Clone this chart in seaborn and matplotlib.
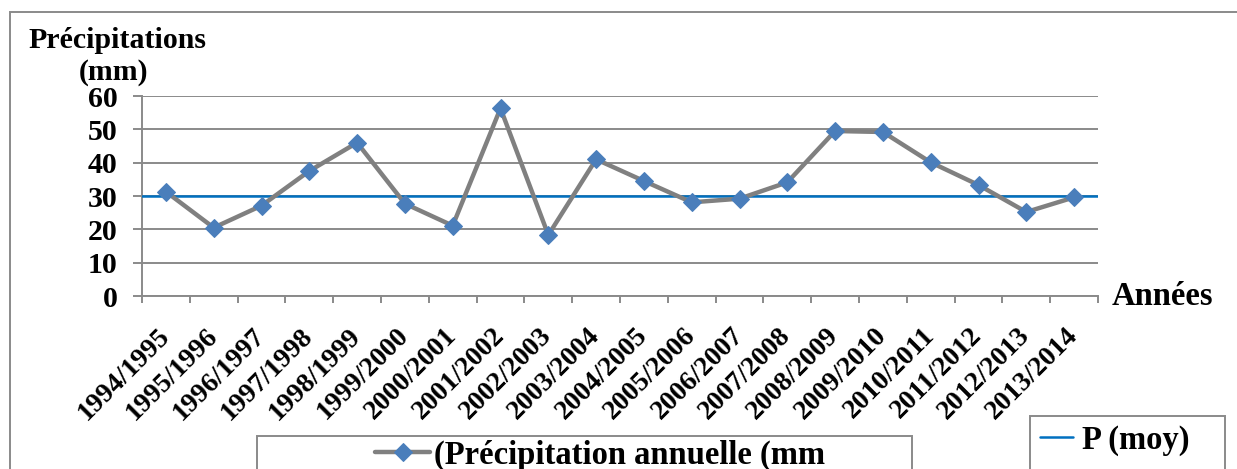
import matplotlib
matplotlib.use("Agg")
import matplotlib.pyplot as plt
import matplotlib.transforms as mtransforms
import seaborn as sns
import pandas as pd
from matplotlib.patches import Rectangle

years = ["1994/1995", "1995/1996", "1996/1997", "1997/1998", "1998/1999",
         "1999/2000", "2000/2001", "2001/2002", "2002/2003", "2003/2004",
         "2004/2005", "2005/2006", "2006/2007", "2007/2008", "2008/2009",
         "2009/2010", "2010/2011", "2011/2012", "2012/2013", "2013/2014"]
precip = [31.3, 20.5, 27.1, 37.5, 46.0, 27.7, 21.1, 56.3, 18.3, 41.0,
          34.5, 28.1, 29.2, 34.1, 49.5, 49.2, 40.1, 33.3, 25.2, 29.6]
p_moy = 30.0
yticks = [0, 10, 20, 30, 40, 50, 60]

sns.set_theme(style="white")
plt.rcParams['font.family'] = ['Liberation Serif', 'DejaVu Serif']
plt.rcParams['font.weight'] = 'bold'
plt.rcParams['text.color'] = 'black'
plt.rcParams['xtick.labelcolor'] = 'black'
plt.rcParams['ytick.labelcolor'] = 'black'

GRID = "#8a8a8a"
W, H = 1237, 469
fig = plt.figure(figsize=(W / 100, H / 100), dpi=100)
ax = fig.add_axes([142 / W, 1 - 296 / H, (1098 - 142) / W, 200 / H])

df = pd.DataFrame({"year": years, "precip": precip})
sns.lineplot(data=df, x="year", y="precip", sort=False, ax=ax,
             color="#808080", linewidth=3.2, marker="D", markersize=9,
             markerfacecolor="#4a7ebb", markeredgecolor="#4a7ebb",
             legend=False, zorder=4)
ax.axhline(p_moy, color="#0070c0", linewidth=1.8, zorder=3)

ax.set_xlim(-0.5, len(years) - 0.5)
ax.set_ylim(0, 60)
ax.set_yticks(yticks)
ax.set_yticklabels([str(v) for v in yticks], fontsize=21.5, fontweight='bold')
ax.yaxis.grid(True, color=GRID, linewidth=1.4)
ax.xaxis.grid(False)
ax.set_axisbelow(True)
for s in ["top", "right"]:
    ax.spines[s].set_visible(False)
for s in ["left", "bottom"]:
    ax.spines[s].set_color(GRID)
    ax.spines[s].set_linewidth(1.4)
ax.tick_params(axis="y", which="major", length=6.5, width=1.4, color=GRID,
               pad=11, left=True)

ax.set_xticks(range(len(years)))
ax.set_xticklabels(years, rotation=45, ha="right", va="center",
                   rotation_mode="anchor", fontsize=20, fontweight='bold')
offset = mtransforms.ScaledTranslation(10 / 100, 0, fig.dpi_scale_trans)
for lab in ax.get_xticklabels():
    lab.set_transform(lab.get_transform() + offset)
ax.set_xticks([i - 0.5 for i in range(len(years) + 1)], minor=True)
ax.tick_params(axis="x", which="major", length=0, pad=26)
ax.tick_params(axis="x", which="minor", length=5, width=1.4, color=GRID,
               bottom=True)
ax.set_xlabel("")
ax.set_ylabel("")

fig.text(117 / W, 1 - 40 / H, "Précipitations", ha="center", va="center",
         fontsize=21.5, fontweight='bold')
fig.text(114 / W, 1 - 73 / H, "(mm)", ha="center", va="center",
         fontsize=21.5, fontweight='bold')
fig.text(1112 / W, 1 - 296 / H, "Années", ha="left", va="center",
         fontsize=23.5, fontweight='bold')

# outer chart border
fig.patches.append(Rectangle((10 / W, -0.1), 1.2, 1 - 12 / H + 0.1,
                             transform=fig.transFigure, fill=False,
                             edgecolor=GRID, linewidth=1.4))
# legend boxes
fig.patches.append(Rectangle((257 / W, -0.1), (912 - 257) / W, 1 - 436 / H + 0.1,
                             transform=fig.transFigure, fill=True, facecolor="white",
                             edgecolor=GRID, linewidth=1.4))
fig.patches.append(Rectangle((1030 / W, -0.1), (1225 - 1030) / W, 1 - 416 / H + 0.1,
                             transform=fig.transFigure, fill=True, facecolor="white",
                             edgecolor=GRID, linewidth=1.4))

h1 = ax.get_lines()[0]
fig.legend([h1], ["(Précipitation annuelle (mm"], loc="center left",
           bbox_to_anchor=(375 / W, 1 - 455 / H), frameon=False,
           prop={"size": 23.5, "weight": "bold"}, handlelength=1.7,
           handletextpad=0.12, borderaxespad=0, borderpad=0)
h2 = ax.get_lines()[1]
fig.legend([h2], ["P (moy)"], loc="center left",
           bbox_to_anchor=(1040 / W, 1 - 440 / H), frameon=False,
           prop={"size": 23.5, "weight": "bold"}, handlelength=1.0,
           handletextpad=0.3, borderaxespad=0, borderpad=0)

fig.savefig("out.png", dpi=100)
